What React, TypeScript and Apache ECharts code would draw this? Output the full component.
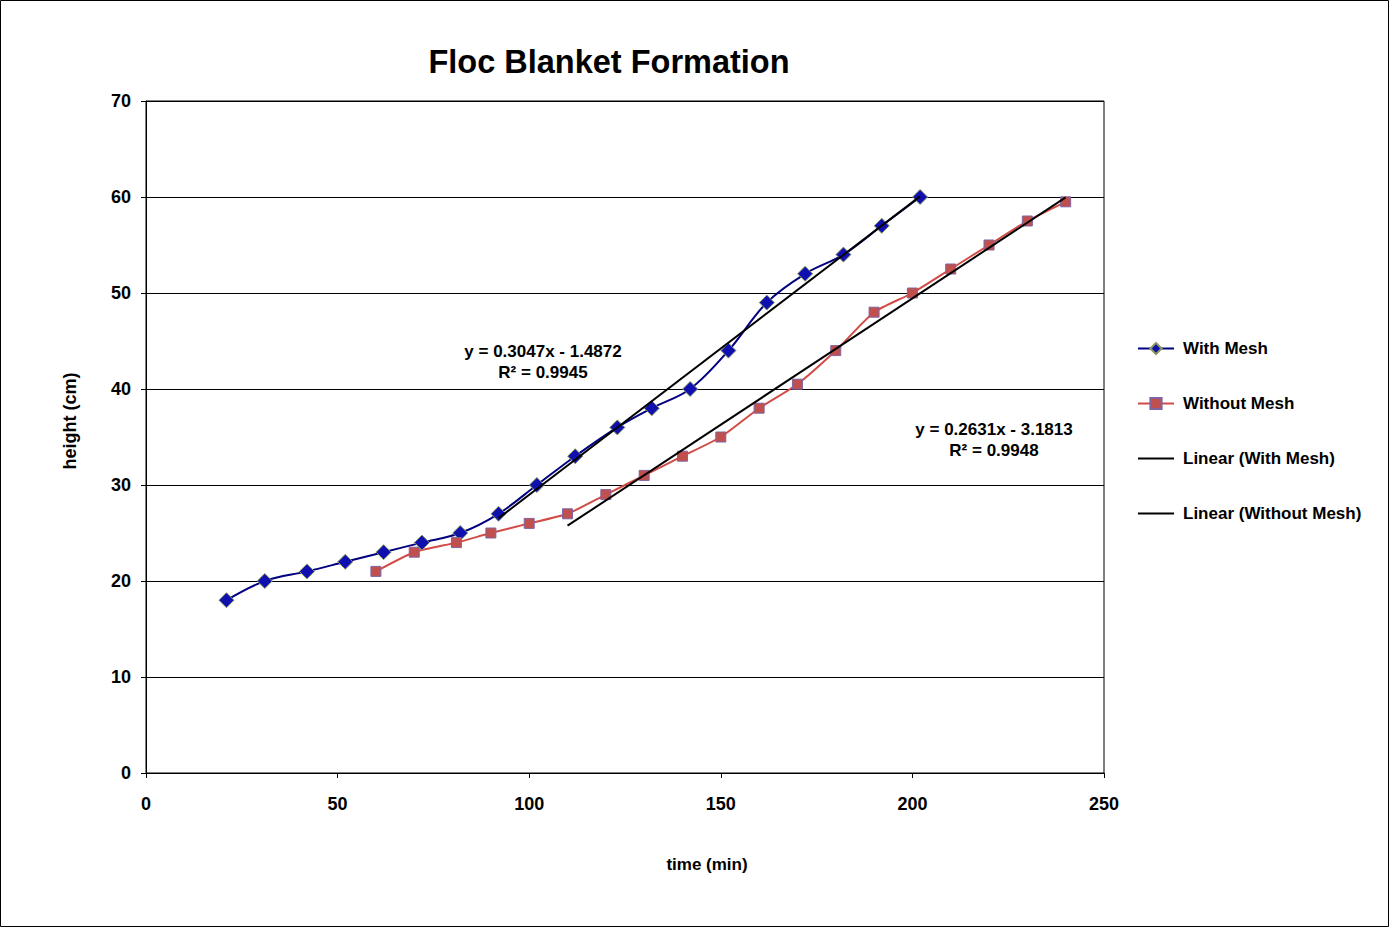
import React, { useEffect, useRef } from "react";
import * as echarts from "echarts";

const withMeshX = [21, 31, 42, 52, 62, 72, 82, 92, 102, 112, 123, 132, 142, 152, 162, 172, 182, 192, 202];
const withMeshY = [18, 20, 21, 22, 23, 24, 25, 27, 30, 33, 36, 38, 40, 44, 49, 52, 54, 57, 60];
const withoutMeshX = [60, 70, 81, 90, 100, 110, 120, 130, 140, 150, 160, 170, 180, 190, 200, 210, 220, 230, 240];
const withoutMeshY = [21, 23, 24, 25, 26, 27, 29, 31, 33, 35, 38, 40.5, 44, 48, 50, 52.5, 55, 57.5, 59.5];
const trendSlope = [0.3047, 0.2631];
const trendIntercept = [-1.4872, -3.1813];
const trendRange = [[92, 202], [110, 240]];
const trendLabels = [
  ["y = 0.3047x - 1.4872", "R² = 0.9945"],
  ["y = 0.2631x - 3.1813", "R² = 0.9948"],
];
const seriesNames = ["With Mesh", "Without Mesh", "Linear (With Mesh)", "Linear (Without Mesh)"];

const FONT = "'Liberation Sans', Arial, sans-serif";

export default function App() {
  const ref = useRef<HTMLDivElement>(null);
  useEffect(() => {
    if (!ref.current) return;
    const chart = echarts.init(ref.current, undefined, { renderer: "svg" });
    const zip = (xs: number[], ys: number[]) => xs.map((x, i) => [x, ys[i]]);
    const trend = (i: number) =>
      trendRange[i].map((x) => [x, trendSlope[i] * x + trendIntercept[i]]);
    const bold = { fontFamily: FONT, fontWeight: "bold" as const, color: "#000" };
    const txt = (text: string, x: number, y: number) => ({
      type: "text",
      x,
      y,
      style: { text, font: `bold 17px ${FONT}`, fill: "#000", textAlign: "center" },
    });
    chart.setOption({
      animation: false,
      backgroundColor: "#fff",
      title: {
        text: "Floc Blanket Formation",
        left: 604,
        top: 40,
        textAlign: "center",
        textStyle: { ...bold, fontSize: 32.5 },
      },
      grid: { left: 146, top: 101, right: 286, bottom: 155, show: true, borderColor: "#000", borderWidth: 1 },
      xAxis: {
        type: "value",
        min: 0,
        max: 250,
        interval: 50,
        axisLine: { lineStyle: { color: "#000", width: 1 } },
        axisTick: { show: true, length: 5, lineStyle: { color: "#000" } },
        splitLine: { show: false },
        axisLabel: { ...bold, fontSize: 18, margin: 22 },
      },
      yAxis: {
        type: "value",
        min: 0,
        max: 70,
        interval: 10,
        axisLine: { show: true, lineStyle: { color: "#000", width: 1 } },
        axisTick: { show: true, length: 5, lineStyle: { color: "#000" } },
        splitLine: { show: true, lineStyle: { color: "#000", width: 1 } },
        axisLabel: { ...bold, fontSize: 18, margin: 15 },
      },
      legend: {
        orient: "vertical",
        left: 1137,
        top: 340,
        padding: 0,
        itemWidth: 36,
        itemHeight: 14,
        itemGap: 38,
        data: [
          { name: seriesNames[0] },
          { name: seriesNames[1] },
          { name: seriesNames[2], itemStyle: { opacity: 0 } },
          { name: seriesNames[3], itemStyle: { opacity: 0 } },
        ],
        textStyle: { ...bold, fontSize: 17, padding: [0, 0, 0, 4] },
      },
      series: [
        {
          name: seriesNames[0],
          type: "line",
          data: zip(withMeshX, withMeshY),
          smooth: 0.35,
          symbol: "diamond",
          symbolSize: 15,
          lineStyle: { color: "#000080", width: 2 },
          itemStyle: { color: "#1010b0", borderColor: "#8a9a5b", borderWidth: 1 },
          z: 3,
        },
        {
          name: seriesNames[1],
          type: "line",
          data: zip(withoutMeshX, withoutMeshY),
          smooth: 0.2,
          symbol: "rect",
          symbolSize: 10,
          lineStyle: { color: "#d24b47", width: 2 },
          itemStyle: { color: "#c0504d", borderColor: "#8064a2", borderWidth: 1 },
          z: 3,
        },
        {
          name: seriesNames[2],
          type: "line",
          data: trend(0),
          symbol: "none",
          showSymbol: false,
          lineStyle: { color: "#000", width: 2 },
          itemStyle: { color: "#000" },
          z: 4,
        },
        {
          name: seriesNames[3],
          type: "line",
          data: trend(1),
          symbol: "none",
          showSymbol: false,
          lineStyle: { color: "#000", width: 2 },
          itemStyle: { color: "#000" },
          z: 4,
        },
      ],
      graphic: [
        {
          type: "rect",
          shape: { x: 0.5, y: 0.5, width: 1388, height: 926 },
          style: { fill: "none", stroke: "#000", lineWidth: 1 },
          silent: true,
        },
        txt(trendLabels[0][0], 543, 343),
        txt(trendLabels[0][1], 543, 364),
        txt(trendLabels[1][0], 994, 421),
        txt(trendLabels[1][1], 994, 442),
        txt("time (min)", 707, 856),
        {
          type: "text",
          x: 70,
          y: 421,
          rotation: Math.PI / 2,
          style: { text: "height (cm)", font: `bold 18px ${FONT}`, fill: "#000", textAlign: "center", textVerticalAlign: "middle" },
        },
      ],
    });
    return () => chart.dispose();
  }, []);
  return (
    <div
      ref={ref}
      style={{ position: "fixed", left: 0, top: 0, width: 1390, height: 928 }}
    />
  );
}
